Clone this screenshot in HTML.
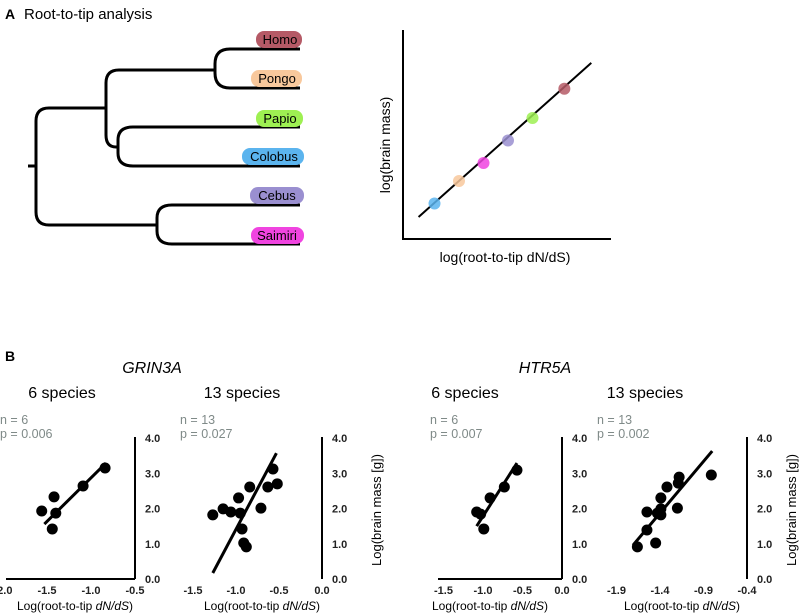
<!DOCTYPE html>
<html><head><meta charset="utf-8">
<style>
body{margin:0;background:#fff;}
svg{display:block;font-family:"Liberation Sans",sans-serif;}
.tk{font-size:11px;font-weight:bold;fill:#222;}
.np{font-size:12.5px;fill:#7f8a88;}
.ttl{font-size:16px;fill:#000;}
.ax{font-size:12px;fill:#000;}
</style></head>
<body>
<svg id="c" width="800" height="614" viewBox="0 0 800 614">
<text x="5" y="19" font-size="14" font-weight="bold">A</text>
<text x="24" y="19" font-size="15">Root-to-tip analysis</text>
<g fill="none" stroke="#000" stroke-width="3">
<path d="M28 166 H36"/>
<path d="M300 49 H230 Q215 49 215 64 V73 Q215 88 230 88 H300"/>
<path d="M300 127 H133 Q118 127 118 140 V153 Q118 166 133 166 H300"/>
<path d="M215 70 H119 Q106 70 106 83 V135 Q106 147 116 147 H118"/>
<path d="M300 205 H172 Q157 205 157 218 V231 Q157 244 172 244 H300"/>
<path d="M106 108 H49 Q36 108 36 121 V212 Q36 225 49 225 H157"/>
</g>
<g font-size="13" text-anchor="middle">
<rect x="256" y="31" width="46" height="17" rx="8" fill="#b55a66"/><text x="280" y="44">Homo</text>
<rect x="251" y="70" width="51" height="17" rx="8" fill="#f8c89c"/><text x="277" y="83">Pongo</text>
<rect x="256" y="110" width="47" height="17" rx="8" fill="#9ef052"/><text x="280" y="123">Papio</text>
<rect x="242" y="148" width="62" height="17" rx="8" fill="#5bb4ee"/><text x="274" y="161">Colobus</text>
<rect x="250" y="187" width="54" height="17" rx="8" fill="#9a8fd0"/><text x="277" y="200">Cebus</text>
<rect x="251" y="227" width="53" height="17" rx="8" fill="#f044e0"/><text x="277" y="240">Saimiri</text>
</g>
<g id="schem">
<path d="M403 30 V239 H611" fill="none" stroke="#000" stroke-width="2"/>
<text x="505" y="262" text-anchor="middle" font-size="14">log(root-to-tip dN/dS)</text>
<text transform="translate(390,145) rotate(-90)" text-anchor="middle" font-size="14">log(brain mass)</text>
</g>
<text x="5" y="361" font-size="14" font-weight="bold">B</text>
<text x="152" y="373" font-size="16" font-style="italic" text-anchor="middle">GRIN3A</text>
<text x="545" y="373" font-size="16" font-style="italic" text-anchor="middle">HTR5A</text>
<g id="plots"></g>
</svg>
<script>
// schematic
const schemX = [1, 2, 3, 4, 5, 6.3];
const schemY = [1, 2, 2.8, 3.8, 4.8, 6.1];
const schemColors = ['#5bb4ee','#f8c89c','#f044e0','#9a8fd0','#9ef052','#b55a66'];
const schemLine = [[0.35, 0.4], [7.4, 7.25]];

// panel B data
const p1X = [-1.56, -1.42, -1.40, -1.44, -1.09, -0.84];
const p1Y = [1.93, 2.33, 1.87, 1.42, 2.64, 3.15];
const p1Line = [[-1.53, 1.56], [-0.83, 3.29]];
const p2X = [-1.27, -1.15, -1.06, -0.97, -0.95, -0.84, -0.93, -0.91, -0.88, -0.71, -0.63, -0.57, -0.52];
const p2Y = [1.82, 1.99, 1.90, 2.30, 1.87, 2.61, 1.42, 1.02, 0.91, 2.01, 2.61, 3.12, 2.70];
const p2Line = [[-1.27, 0.17], [-0.53, 3.57]];
const p3X = [-1.08, -1.03, -0.91, -0.99, -0.73, -0.57];
const p3Y = [1.90, 1.84, 2.30, 1.42, 2.61, 3.09];
const p3Line = [[-1.08, 1.50], [-0.57, 3.29]];
const p4X = [-1.66, -1.55, -1.55, -1.45, -1.43, -1.39, -1.39, -1.39, -1.32, -1.20, -1.19, -1.18, -0.81];
const p4Y = [0.91, 1.39, 1.90, 1.02, 1.87, 2.30, 1.82, 1.99, 2.61, 2.01, 2.72, 2.89, 2.95];
const p4Line = [[-1.71, 0.96], [-0.80, 3.63]];
const yTicks = ['0.0', '1.0', '2.0', '3.0', '4.0'];
const x1Ticks = ['-2.0', '-1.5', '-1.0', '-0.5'];
const x2Ticks = ['-1.5', '-1.0', '-0.5', '0.0'];
const x3Ticks = ['-1.5', '-1.0', '-0.5', '0.0'];
const x4Ticks = ['-1.9', '-1.4', '-0.9', '-0.4'];
const nLabels = ['n = 6', 'n = 13', 'n = 6', 'n = 13'];
const pLabels = ['p = 0.006', 'p = 0.027', 'p = 0.007', 'p = 0.002'];
const speciesTitles = ['6 species', '13 species', '6 species', '13 species'];

const NS = 'http://www.w3.org/2000/svg';
function mk(tag, attrs, parent, txt) {
  const e = document.createElementNS(NS, tag);
  for (const k in attrs) e.setAttribute(k, attrs[k]);
  if (txt !== undefined) e.textContent = txt;
  parent.appendChild(e);
  return e;
}

const schem = document.getElementById('schem');
const sx = v => 410 + v * 24.5, sy = v => 226 - v * 22.5;
const sl = mk('line', {x1: sx(schemLine[0][0]), y1: sy(schemLine[0][1]), x2: sx(schemLine[1][0]), y2: sy(schemLine[1][1]), stroke: '#000', 'stroke-width': 2}, schem);


schemX.forEach((v, i) => {
  const c = mk('circle', {cx: sx(v), cy: sy(schemY[i]), r: 6, fill: schemColors[i], opacity: 0.85}, schem);
  
  
});

const plots = [
  {xs: p1X, ys: p1Y, line: p1Line, ticks: x1Ticks, axX: 135, x0: -0.5, ppu: 88, left: 6, hAxis: true, rLabel: false, npX: 0, ttlX: 62, axTitleX: 75},
  {xs: p2X, ys: p2Y, line: p2Line, ticks: x2Ticks, axX: 322, x0: 0.0, ppu: 86, left: 190, hAxis: false, rLabel: true, npX: 180, ttlX: 242, axTitleX: 262, rX: 381},
  {xs: p3X, ys: p3Y, line: p3Line, ticks: x3Ticks, axX: 562, x0: 0.0, ppu: 79, left: 438, hAxis: true, rLabel: false, npX: 430, ttlX: 465, axTitleX: 490},
  {xs: p4X, ys: p4Y, line: p4Line, ticks: x4Ticks, axX: 747, x0: -0.4, ppu: 87, left: 612, hAxis: false, rLabel: true, npX: 597, ttlX: 645, axTitleX: 682, rX: 796}
];
const root = document.getElementById('plots');
const Y0 = 579, YPU = 35.25;
plots.forEach((p, k) => {
  const g = mk('g', {}, root);
  
  
  const X = v => p.axX + (v - p.x0) * p.ppu;
  const Y = v => Y0 - v * YPU;
  const t = mk('text', {x: p.ttlX, y: 398, class: 'ttl', 'text-anchor': 'middle'}, g, speciesTitles[k]);
  
  
  const n = mk('text', {x: p.npX, y: 424, class: 'np'}, g, nLabels[k]);
  
  
  const pv = mk('text', {x: p.npX, y: 438, class: 'np'}, g, pLabels[k]);
  
  
  const ya = mk('line', {x1: p.axX, y1: 437, x2: p.axX, y2: Y0, stroke: '#000', 'stroke-width': 2}, g);
  
  
  if (p.hAxis) {
    const xa = mk('line', {x1: p.left, y1: Y0, x2: p.axX, y2: Y0, stroke: '#000', 'stroke-width': 2}, g);
    
    
  }
  yTicks.forEach(s => {
    const e = mk('text', {x: p.axX + 10, y: Y(parseFloat(s)) + 4, class: 'tk'}, g, s);
    
    
  });
  p.ticks.forEach(s => {
    const e = mk('text', {x: X(parseFloat(s)), y: 594, class: 'tk', 'text-anchor': 'middle'}, g, s);
    
    
  });
  const at = mk('text', {x: p.axTitleX, y: 610, class: 'ax', 'text-anchor': 'middle'}, g);
  
  
  at.appendChild(document.createTextNode('Log(root-to-tip '));
  mk('tspan', {'font-style': 'italic'}, at, 'dN/dS');
  at.appendChild(document.createTextNode(')'));
  if (p.rLabel) {
    const r = mk('text', {transform: 'translate(' + p.rX + ',510) rotate(-90)', 'text-anchor': 'middle', 'font-size': 13}, g, 'Log(brain mass [g])');
    
    
  }
  const l = mk('line', {x1: X(p.line[0][0]), y1: Y(p.line[0][1]), x2: X(p.line[1][0]), y2: Y(p.line[1][1]), stroke: '#000', 'stroke-width': 3}, g);
  
  
  p.xs.forEach((v, i) => {
    const c = mk('circle', {cx: X(v), cy: Y(p.ys[i]), r: 5.5, fill: '#000'}, g);
    
    
  });
});
</script>
</body></html>
